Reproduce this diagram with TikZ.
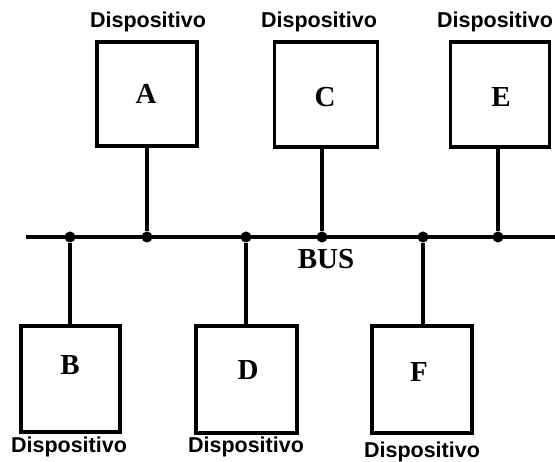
\documentclass[tikz,border=0pt]{standalone}
\usepackage{fontspec}
\setmainfont{Liberation Serif}
\setsansfont{Liberation Sans}
\begin{document}
\begin{tikzpicture}[x=1pt,y=-1pt,
  dev/.style={draw,line width=3.2pt,inner sep=0pt,fill=white},
  wire/.style={line width=3.2pt},
  dot/.style={circle,fill=black,inner sep=0pt,minimum size=11pt},
  letter/.style={font=\fontsize{29}{31}\selectfont\bfseries,inner sep=0pt},
  tag/.style={font=\sffamily\bfseries\fontsize{21.5}{23}\selectfont,inner sep=0pt}
]
\useasboundingbox (0,0) rectangle (555,462);
% bus
\coordinate (busL) at (26,237);
\coordinate (busR) at (555,237);
\draw[wire] (busL) -- (busR);
\node[letter] (bus) at (326,259) {BUS};
% junctions
\node[dot] (jB) at (70,237) {};
\node[dot] (jA) at (147,237) {};
\node[dot] (jD) at (246,237) {};
\node[dot] (jC) at (322,237) {};
\node[dot] (jF) at (423,237) {};
\node[dot] (jE) at (498,237) {};
% boxes top
\node[dev,minimum width=100pt,minimum height=104pt] (A) at (147,94) {};
\node[dev,minimum width=103pt,minimum height=105pt] (C) at (326,94.5) {};
\node[dev,minimum width=99pt,minimum height=105pt] (E) at (500,94.5) {};
% boxes bottom
\node[dev,minimum width=99pt,minimum height=106pt] (B) at (70.5,379) {};
\node[dev,minimum width=101pt,minimum height=107pt] (D) at (246.5,379.5) {};
\node[dev,minimum width=100pt,minimum height=107pt] (F) at (422,379.5) {};
% connectors
\draw[wire] (jA) -- (jA |- A.south);
\draw[wire] (jC) -- (jC |- C.south);
\draw[wire] (jE) -- (jE |- E.south);
\draw[wire] (jB) -- (jB |- B.north);
\draw[wire] (jD) -- (jD |- D.north);
\draw[wire] (jF) -- (jF |- F.north);
% letters
\node[letter] (lA) at (146,94) {A};
\node[letter] (lC) at (325,97) {C};
\node[letter] (lE) at (501,97) {E};
\node[letter] (lB) at (70,365) {B};
\node[letter] (lD) at (248,370) {D};
\node[letter] (lF) at (419,372) {F};
% labels
\node[tag] (tA) at (148,22) {Dispositivo};
\node[tag] (tC) at (319,22) {Dispositivo};
\node[tag] (tE) at (495,22) {Dispositivo};
\node[tag] (tB) at (69,447) {Dispositivo};
\node[tag] (tD) at (246,447) {Dispositivo};
\node[tag] (tF) at (422,452) {Dispositivo};
\end{tikzpicture}
\end{document}
